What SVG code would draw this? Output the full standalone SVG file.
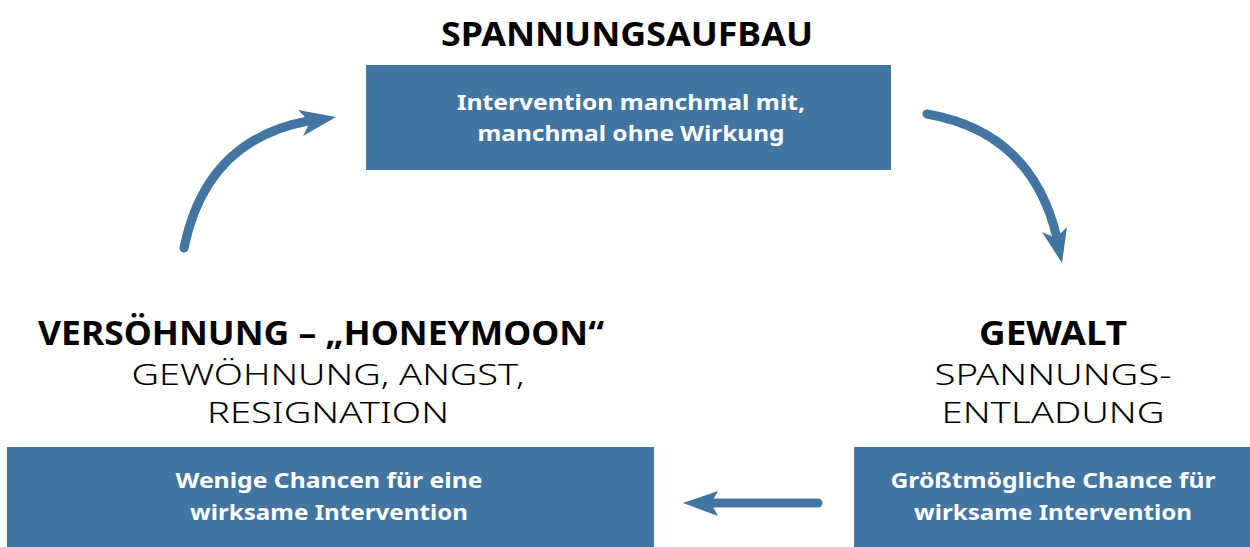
<svg xmlns="http://www.w3.org/2000/svg" width="1250" height="547" viewBox="0 0 1250 547">
<style>
.box{fill:#4275a2}
.head{font-family:"Noto Sans","Open Sans",sans-serif;font-weight:700;font-size:34px;fill:#000;text-anchor:middle}
.sub{font-family:"Noto Sans","Open Sans",sans-serif;font-weight:300;font-size:30px;fill:#000;text-anchor:middle}
.btx{font-family:"Noto Sans","Open Sans",sans-serif;font-weight:700;font-size:22px;fill:#fff;text-anchor:middle}
.line{fill:none;stroke:#4275a2;stroke-width:9;stroke-linecap:round}
.head2{fill:#4275a2}
</style>
<rect width="1250" height="547" fill="#fff"/>
<g id="connectors">
<path class="line" d="M184,248 Q206,140 308,121"/>
<polygon class="head2" points="336,117 298,110 310,122 303,136"/>
<path class="line" d="M927,114 Q1032,132 1057,238"/>
<polygon class="head2" points="1062,263 1042,232 1056,238 1067,227"/>
<path class="line" d="M818,503 L710,503"/>
<polygon class="head2" points="683,503 718,491 711,503 718,516"/>
</g>
<g id="node-spannungsaufbau">
<text class="head" x="627" y="46" textLength="372" lengthAdjust="spacingAndGlyphs">SPANNUNGSAUFBAU</text>
<rect class="box" x="366" y="65" width="525" height="105"/>
<text class="btx" x="631" y="110" textLength="348" lengthAdjust="spacingAndGlyphs">Intervention manchmal mit,</text>
<text class="btx" x="631" y="141" textLength="307" lengthAdjust="spacingAndGlyphs">manchmal ohne Wirkung</text>
</g>
<g id="node-gewalt">
<text class="head" x="1053" y="345" textLength="148" lengthAdjust="spacingAndGlyphs">GEWALT</text>
<text class="sub" x="1053" y="385" textLength="237" lengthAdjust="spacingAndGlyphs">SPANNUNGS-</text>
<text class="sub" x="1053" y="423" textLength="223" lengthAdjust="spacingAndGlyphs">ENTLADUNG</text>
<rect class="box" x="854" y="447" width="396" height="100"/>
<text class="btx" x="1053" y="488" textLength="325" lengthAdjust="spacingAndGlyphs">Größtmögliche Chance für</text>
<text class="btx" x="1053" y="520" textLength="278" lengthAdjust="spacingAndGlyphs">wirksame Intervention</text>
</g>
<g id="node-versoehnung">
<text class="head" x="321" y="345" textLength="566" lengthAdjust="spacingAndGlyphs">VERSÖHNUNG – „HONEYMOON“</text>
<text class="sub" x="328" y="385" textLength="393" lengthAdjust="spacingAndGlyphs">GEWÖHNUNG, ANGST,</text>
<text class="sub" x="328" y="423" textLength="242" lengthAdjust="spacingAndGlyphs">RESIGNATION</text>
<rect class="box" x="7" y="447" width="647" height="100"/>
<text class="btx" x="329" y="488" textLength="307" lengthAdjust="spacingAndGlyphs">Wenige Chancen für eine</text>
<text class="btx" x="329" y="520" textLength="278" lengthAdjust="spacingAndGlyphs">wirksame Intervention</text>
</g>
</svg>
